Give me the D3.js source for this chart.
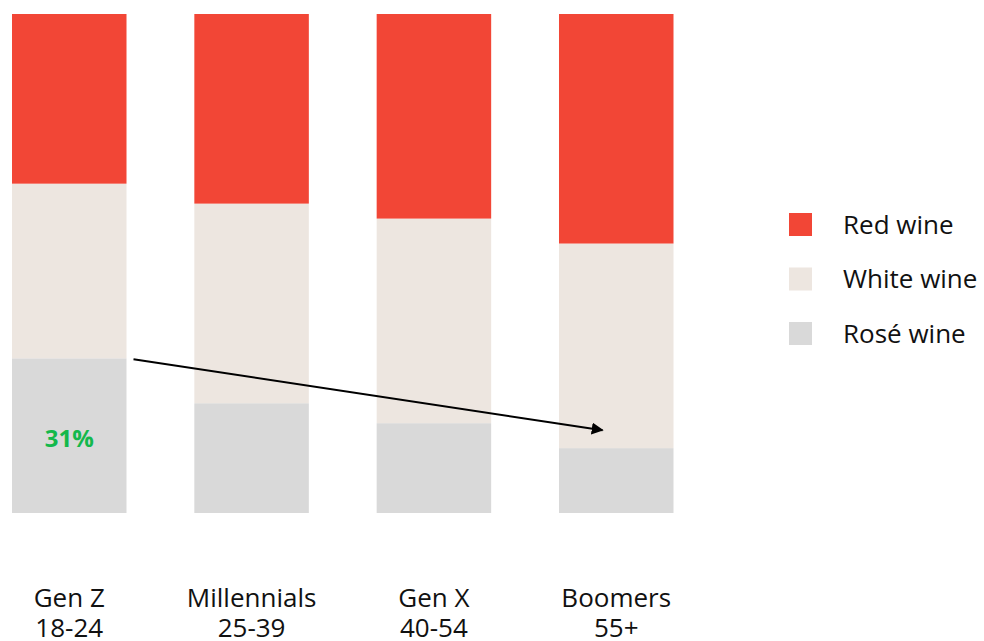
<!DOCTYPE html>
<html>
<head>
<meta charset="utf-8">
<script src="https://cdn.jsdelivr.net/npm/d3@7"></script>
<style>
  html, body { margin: 0; padding: 0; background: #ffffff; }
  svg { display: block; font-family: "Open Sans", "Noto Sans", sans-serif; }
</style>
</head>
<body>
<svg id="chart" width="984" height="641"></svg>
<script>
// Wine preference share by generation (percent of each group)
const generations = ["Gen Z", "Millennials", "Gen X", "Boomers"];
const ageRanges = ["18-24", "25-39", "40-54", "55+"];
const seriesNames = ["Rosé wine", "White wine", "Red wine"];
const roseShare = [31, 22, 18, 13];
const whiteShare = [35, 40, 41, 41];
const redShare = [34, 38, 41, 46];
const highlightLabel = "31%";

const colors = {
  "Red wine": "#f24636",
  "White wine": "#ede6e0",
  "Rosé wine": "#d9d9d9"
};

const rows = generations.map((g, i) => ({
  gen: g,
  age: ageRanges[i],
  "Rosé wine": roseShare[i],
  "White wine": whiteShare[i],
  "Red wine": redShare[i]
}));

const svg = d3.select("#chart");

const x = d3.scaleBand()
  .domain(generations)
  .range([12, 673.5])
  .paddingInner(0.372)
  .paddingOuter(0);

const y = d3.scaleLinear()
  .domain([0, 100])
  .range([513, 14]);

const stack = d3.stack().keys(seriesNames);
const layers = stack(rows);

svg.append("g")
  .selectAll("g")
  .data(layers)
  .join("g")
  .attr("fill", d => colors[d.key])
  .selectAll("rect")
  .data(d => d)
  .join("rect")
  .attr("x", d => x(d.data.gen))
  .attr("y", d => y(d[1]))
  .attr("width", x.bandwidth())
  .attr("height", d => y(d[0]) - y(d[1]));

// Category labels below the bars
const labels = svg.append("g")
  .attr("font-size", 26)
  .attr("fill", "#111")
  .attr("text-anchor", "middle");
rows.forEach(r => {
  const cx = x(r.gen) + x.bandwidth() / 2;
  labels.append("text").attr("x", cx).attr("y", 607).text(r.gen);
  labels.append("text").attr("x", cx).attr("y", 637).text(r.age);
});

// Highlighted rosé share for Gen Z
svg.append("text")
  .attr("x", x("Gen Z") + x.bandwidth() / 2)
  .attr("y", 446.5)
  .attr("text-anchor", "middle")
  .attr("font-size", 24)
  .attr("font-weight", 700)
  .attr("fill", "#14b84c")
  .text(highlightLabel);

// Trend arrow from Gen Z rosé level toward Boomers
svg.append("defs").append("marker")
  .attr("id", "arrowhead")
  .attr("viewBox", "0 0 10 10")
  .attr("refX", 9)
  .attr("refY", 5)
  .attr("markerWidth", 6)
  .attr("markerHeight", 6)
  .attr("orient", "auto")
  .append("path")
  .attr("d", "M0,0 L10,5 L0,10 Z")
  .attr("fill", "#000");

const x0 = x("Gen Z") + x.bandwidth() + 7;
const y0 = y(roseShare[0]) + 1;
const x1 = x("Boomers") + x.bandwidth() * 0.38;
const y1 = y(16.6);
svg.append("line")
  .attr("x1", x0).attr("y1", y0)
  .attr("x2", x1).attr("y2", y1)
  .attr("stroke", "#000")
  .attr("stroke-width", 2)
  .attr("marker-end", "url(#arrowhead)");

// Legend
const legendOrder = ["Red wine", "White wine", "Rosé wine"];
const legend = svg.append("g").attr("transform", "translate(789,213)");
legendOrder.forEach((name, i) => {
  const g = legend.append("g").attr("transform", `translate(0, ${i * 54.5})`);
  g.append("rect").attr("width", 23).attr("height", 23).attr("fill", colors[name]);
  g.append("text")
    .attr("x", 54)
    .attr("y", 20.5)
    .attr("font-size", 26)
    .attr("fill", "#111")
    .text(name);
});
</script>
</body>
</html>
